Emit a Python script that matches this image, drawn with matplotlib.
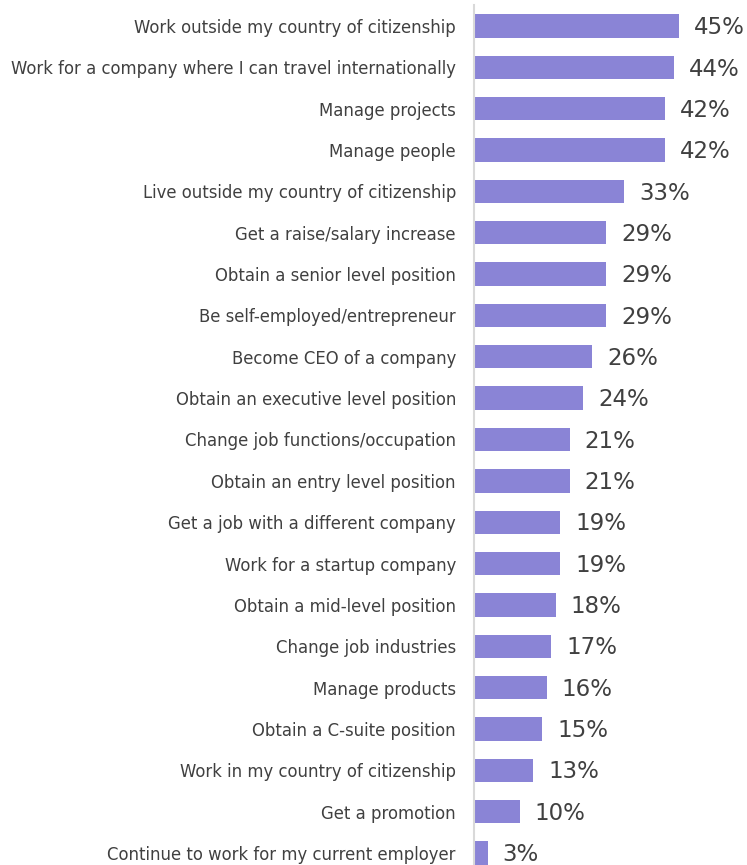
import matplotlib
matplotlib.use("Agg")
import matplotlib.pyplot as plt

categories = [
    "Work outside my country of citizenship",
    "Work for a company where I can travel internationally",
    "Manage projects",
    "Manage people",
    "Live outside my country of citizenship",
    "Get a raise/salary increase",
    "Obtain a senior level position",
    "Be self-employed/entrepreneur",
    "Become CEO of a company",
    "Obtain an executive level position",
    "Change job functions/occupation",
    "Obtain an entry level position",
    "Get a job with a different company",
    "Work for a startup company",
    "Obtain a mid-level position",
    "Change job industries",
    "Manage products",
    "Obtain a C-suite position",
    "Work in my country of citizenship",
    "Get a promotion",
    "Continue to work for my current employer",
]
values = [45, 44, 42, 42, 33, 29, 29, 29, 26, 24, 21, 21, 19, 19, 18, 17, 16, 15, 13, 10, 3]

W, H = 747, 865
fig = plt.figure(figsize=(W / 100, H / 100), dpi=100)
ax = fig.add_axes([474 / W, 0, (W - 474) / W, 1])

bar_color = "#8a84d6"
text_color = "#404040"

pos = list(range(len(categories)))
ax.barh(pos, values, height=0.565, color=bar_color, edgecolor="none")

for p, v in zip(pos, values):
    ax.text(v + 3.3, p + 0.04, f"{v}%", va="center", ha="left", fontsize=16.5,
            color=text_color, clip_on=False)

pitch = 41.35
top_c = 26
ax.set_ylim((H - top_c) / pitch, -top_c / pitch)
ax.set_xlim(0, 60)

ax.set_yticks(pos)
ax.set_yticklabels(categories, fontsize=11.9, color=text_color)
ax.tick_params(axis="y", length=0, pad=13)
ax.set_xticks([])

for s in ["top", "right", "bottom"]:
    ax.spines[s].set_visible(False)
ax.spines["left"].set_color("#d9d9d9")
ax.spines["left"].set_linewidth(1.5)
ax.spines["left"].set_bounds((5 - top_c) / pitch, (H - top_c) / pitch)
ax.patch.set_visible(False)

fig.savefig("out.png", dpi=100)
